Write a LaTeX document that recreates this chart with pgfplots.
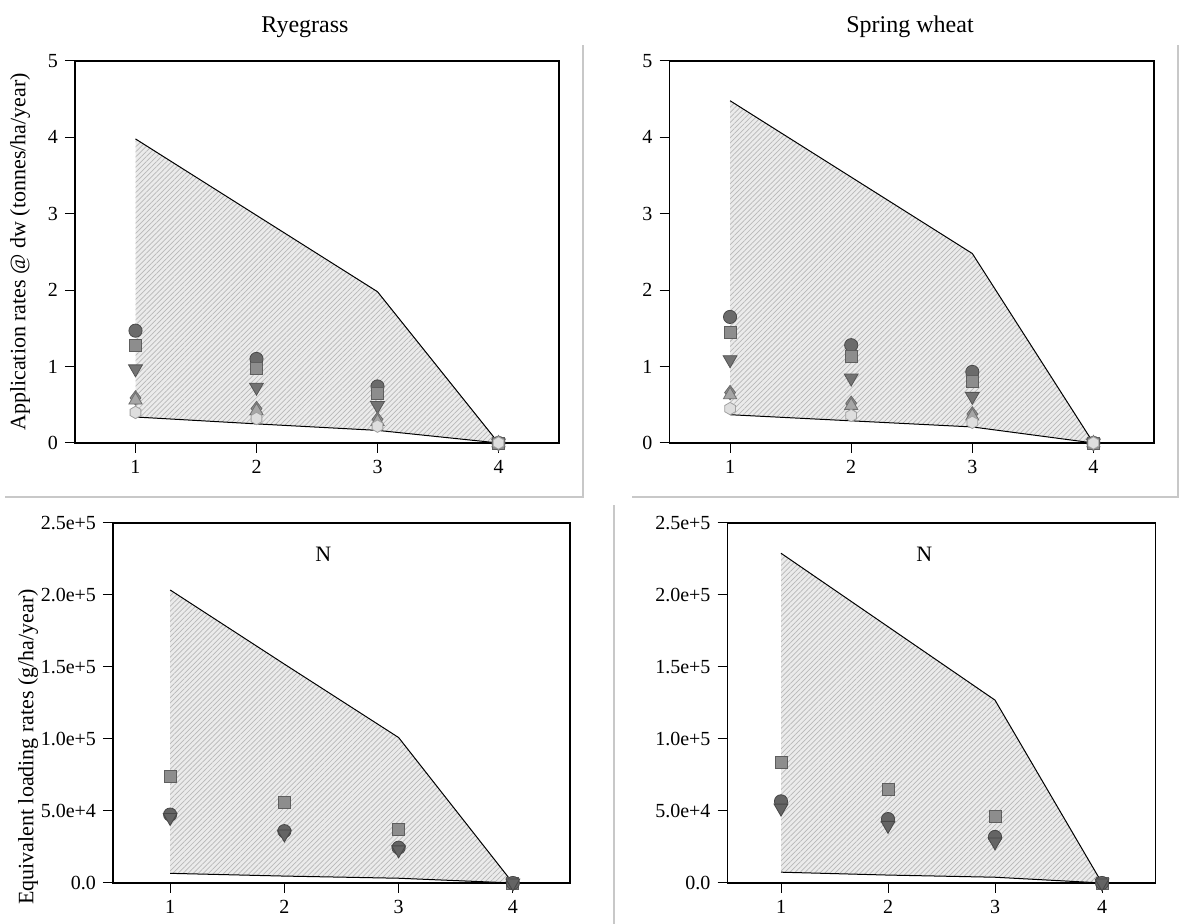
\documentclass[border=0pt]{standalone}
\usepackage{fontspec}
\setmainfont{Liberation Serif}
\usepackage{pgfplots}
\usepackage{pgfplotstable}
\pgfplotsset{compat=1.18}
\usetikzlibrary{patterns,patterns.meta}

\pgfdeclareplotmark{hexagon*}{%
  \pgfpathmoveto{\pgfpointpolar{90}{\pgfplotmarksize}}%
  \pgfpathlineto{\pgfpointpolar{150}{\pgfplotmarksize}}%
  \pgfpathlineto{\pgfpointpolar{210}{\pgfplotmarksize}}%
  \pgfpathlineto{\pgfpointpolar{270}{\pgfplotmarksize}}%
  \pgfpathlineto{\pgfpointpolar{330}{\pgfplotmarksize}}%
  \pgfpathlineto{\pgfpointpolar{30}{\pgfplotmarksize}}%
  \pgfpathclose
  \pgfusepathqfillstroke
}

\definecolor{cCf}{HTML}{6B6B6B}\definecolor{cCd}{HTML}{4A4A4A}
\definecolor{cSf}{HTML}{8D8D8D}\definecolor{cSd}{HTML}{5E5E5E}
\definecolor{cTf}{HTML}{737373}\definecolor{cTd}{HTML}{555555}
\definecolor{cDf}{HTML}{909090}\definecolor{cDd}{HTML}{6A6A6A}
\definecolor{cUf}{HTML}{A6A6A6}\definecolor{cUd}{HTML}{707070}
\definecolor{cHf}{HTML}{DEDEDE}\definecolor{cHd}{HTML}{A0A0A0}
\definecolor{cNf}{HTML}{646464}\definecolor{cNd}{HTML}{474747}
\definecolor{areafill}{HTML}{EBEBEB}
\definecolor{hatch}{HTML}{B8B8B8}
\definecolor{frame}{HTML}{C8C8C8}

\pgfplotsset{
  panel/.style={scale only axis, anchor=south west, clip=false,
    xmin=0.5, xmax=4.5, xtick={1,2,3,4},
    tick pos=left, tick align=outside, major tick length=5pt,
    tick style={black, line width=0.5pt},
    axis line style={black, line width=0.6pt},
    /pgf/number format/assume math mode=true,
    ticklabel style={font=\fontsize{10}{12}\selectfont},
    every axis plot/.append style={mark=none}},
  area/.style={fill=areafill, draw=none, forget plot},
  hatchs/.style={pattern={Lines[angle=45,distance=1.8pt,line width=0.35pt]}, pattern color=hatch, draw=none},
  bline/.style={black, line width=0.5pt},
  mC/.style={only marks, mark=*, mark size=3.3pt, mark options={fill=cCf, draw=cCd, line width=0.4pt}},
  mS/.style={only marks, mark=square*, mark size=3pt, mark options={fill=cSf, draw=cSd, line width=0.4pt}},
  mT/.style={only marks, mark=triangle*, mark size=4pt, mark options={rotate=180, fill=cTf, draw=cTd, line width=0.4pt}},
  mD/.style={only marks, mark=diamond*, mark size=3.6pt, mark options={fill=cDf, draw=cDd, line width=0.4pt}},
  mU/.style={only marks, mark=triangle*, mark size=3.8pt, mark options={fill=cUf, draw=cUd, line width=0.4pt}},
  mH/.style={only marks, mark=hexagon*, mark size=3.1pt, mark options={fill=cHf, draw=cHd, line width=0.4pt}},
  mCN/.style={only marks, mark=*, mark size=3.3pt, mark options={fill=cNf, draw=cNd, line width=0.4pt}},
  mTN/.style={only marks, mark=triangle*, mark size=4pt, mark options={rotate=180, fill=cNf, draw=cNd, line width=0.4pt}},
}

% application rates, ryegrass
\pgfplotstableread{
x circ sq tdown diam tup hex
1 1.47 1.28 0.97 0.59 0.56 0.40
2 1.10 0.97 0.73 0.45 0.42 0.32
3 0.74 0.65 0.49 0.31 0.28 0.22
4 0 0 0 0 0 0
}\rye
% application rates, spring wheat
\pgfplotstableread{
x circ sq tdown diam tup hex
1 1.65 1.45 1.09 0.66 0.63 0.45
2 1.28 1.13 0.85 0.52 0.49 0.36
3 0.93 0.81 0.61 0.38 0.35 0.27
4 0 0 0 0 0 0
}\wheat
% N loading, ryegrass
\pgfplotstableread{
x circ sq tdown
1 47500 74300 45500
2 36000 55800 34000
3 24500 37300 23000
4 0 0 0
}\ryeN
% N loading, spring wheat
\pgfplotstableread{
x circ sq tdown
1 56700 83500 52000
2 44400 65000 40000
3 32000 46500 28500
4 0 0 0
}\wheatN

\begin{document}
\begin{tikzpicture}
\path[use as bounding box] (0,0) rectangle (591.5pt,462pt);

% panel frames
\draw[frame, line width=0.6pt] (2.5pt,213.5pt) -- (291.5pt,213.5pt) -- (291.5pt,439.5pt);
\draw[frame, line width=0.6pt] (316pt,213.5pt) -- (589pt,213.5pt) -- (589pt,439.5pt);
\draw[frame, line width=0.6pt] (307pt,0pt) -- (307pt,209.5pt);

% titles and labels
\node[font=\fontsize{12}{14}\selectfont] at (152.5pt,448.5pt) {Ryegrass};
\node[font=\fontsize{12}{14}\selectfont] at (455pt,448.5pt) {Spring wheat};
\node[rotate=90, font=\fontsize{11}{13}\selectfont] at (10pt,336pt) {Application rates @ dw (tonnes/ha/year)};
\node[rotate=90, font=\fontsize{11}{13}\selectfont] at (14pt,88.5pt) {Equivalent loading rates (g/ha/year)};

% top-left
\begin{axis}[panel, at={(37.5pt,240.5pt)}, width=242pt, height=191pt,
  ymin=0, ymax=5, ytick={0,1,2,3,4,5}]
\addplot[area] coordinates {(1,0.34) (2,0.25) (3,0.165) (4,0) (3,1.98) (2,2.98) (1,3.98)};
\addplot[hatchs] coordinates {(1,0.34) (2,0.25) (3,0.165) (4,0) (3,1.98) (2,2.98) (1,3.98)};
\addplot[bline] coordinates {(1,3.98) (2,2.98) (3,1.98) (4,0)};
\addplot[bline] coordinates {(1,0.34) (2,0.25) (3,0.165) (4,0)};
\addplot[mC] table[x=x,y=circ]{\rye};
\addplot[mS] table[x=x,y=sq]{\rye};
\addplot[mT] table[x=x,y=tdown]{\rye};
\addplot[mD] table[x=x,y=diam]{\rye};
\addplot[mU] table[x=x,y=tup]{\rye};
\addplot[mH] table[x=x,y=hex]{\rye};
\end{axis}

% top-right
\begin{axis}[panel, at={(334.75pt,240.5pt)}, width=242.25pt, height=191pt,
  ymin=0, ymax=5, ytick={0,1,2,3,4,5}]
\addplot[area] coordinates {(1,0.37) (2,0.29) (3,0.21) (4,0) (3,2.48) (2,3.48) (1,4.48)};
\addplot[hatchs] coordinates {(1,0.37) (2,0.29) (3,0.21) (4,0) (3,2.48) (2,3.48) (1,4.48)};
\addplot[bline] coordinates {(1,4.48) (2,3.48) (3,2.48) (4,0)};
\addplot[bline] coordinates {(1,0.37) (2,0.29) (3,0.21) (4,0)};
\addplot[mC] table[x=x,y=circ]{\wheat};
\addplot[mS] table[x=x,y=sq]{\wheat};
\addplot[mT] table[x=x,y=tdown]{\wheat};
\addplot[mD] table[x=x,y=diam]{\wheat};
\addplot[mU] table[x=x,y=tup]{\wheat};
\addplot[mH] table[x=x,y=hex]{\wheat};
\end{axis}

% bottom-left
\begin{axis}[panel, at={(56.5pt,20.5pt)}, width=228.5pt, height=180pt,
  ymin=0, ymax=250000, ytick={0,50000,100000,150000,200000,250000},
  yticklabels={0.0,5.0e+4,1.0e+5,1.5e+5,2.0e+5,2.5e+5}, scaled y ticks=false]
\addplot[area] coordinates {(1,6700) (2,4800) (3,3300) (4,0) (3,101000) (2,152000) (1,203500)};
\addplot[hatchs] coordinates {(1,6700) (2,4800) (3,3300) (4,0) (3,101000) (2,152000) (1,203500)};
\addplot[bline] coordinates {(1,203500) (2,152000) (3,101000) (4,0)};
\addplot[bline] coordinates {(1,6700) (2,4800) (3,3300) (4,0)};
\addplot[mS] table[x=x,y=sq]{\ryeN};
\addplot[mCN] table[x=x,y=circ]{\ryeN};
\addplot[mTN] table[x=x,y=tdown]{\ryeN};
\node[font=\fontsize{11}{13}\selectfont] at (axis cs:2.34,228000) {N};
\end{axis}

% bottom-right
\begin{axis}[panel, at={(363.75pt,20.5pt)}, width=214pt, height=180pt,
  ymin=0, ymax=250000, ytick={0,50000,100000,150000,200000,250000},
  yticklabels={0.0,5.0e+4,1.0e+5,1.5e+5,2.0e+5,2.5e+5}, scaled y ticks=false]
\addplot[area] coordinates {(1,7500) (2,5500) (3,4000) (4,0) (3,127000) (2,178000) (1,229000)};
\addplot[hatchs] coordinates {(1,7500) (2,5500) (3,4000) (4,0) (3,127000) (2,178000) (1,229000)};
\addplot[bline] coordinates {(1,229000) (2,178000) (3,127000) (4,0)};
\addplot[bline] coordinates {(1,7500) (2,5500) (3,4000) (4,0)};
\addplot[mS] table[x=x,y=sq]{\wheatN};
\addplot[mCN] table[x=x,y=circ]{\wheatN};
\addplot[mTN] table[x=x,y=tdown]{\wheatN};
\node[font=\fontsize{11}{13}\selectfont] at (axis cs:2.34,228000) {N};
\end{axis}
\end{tikzpicture}
\end{document}
